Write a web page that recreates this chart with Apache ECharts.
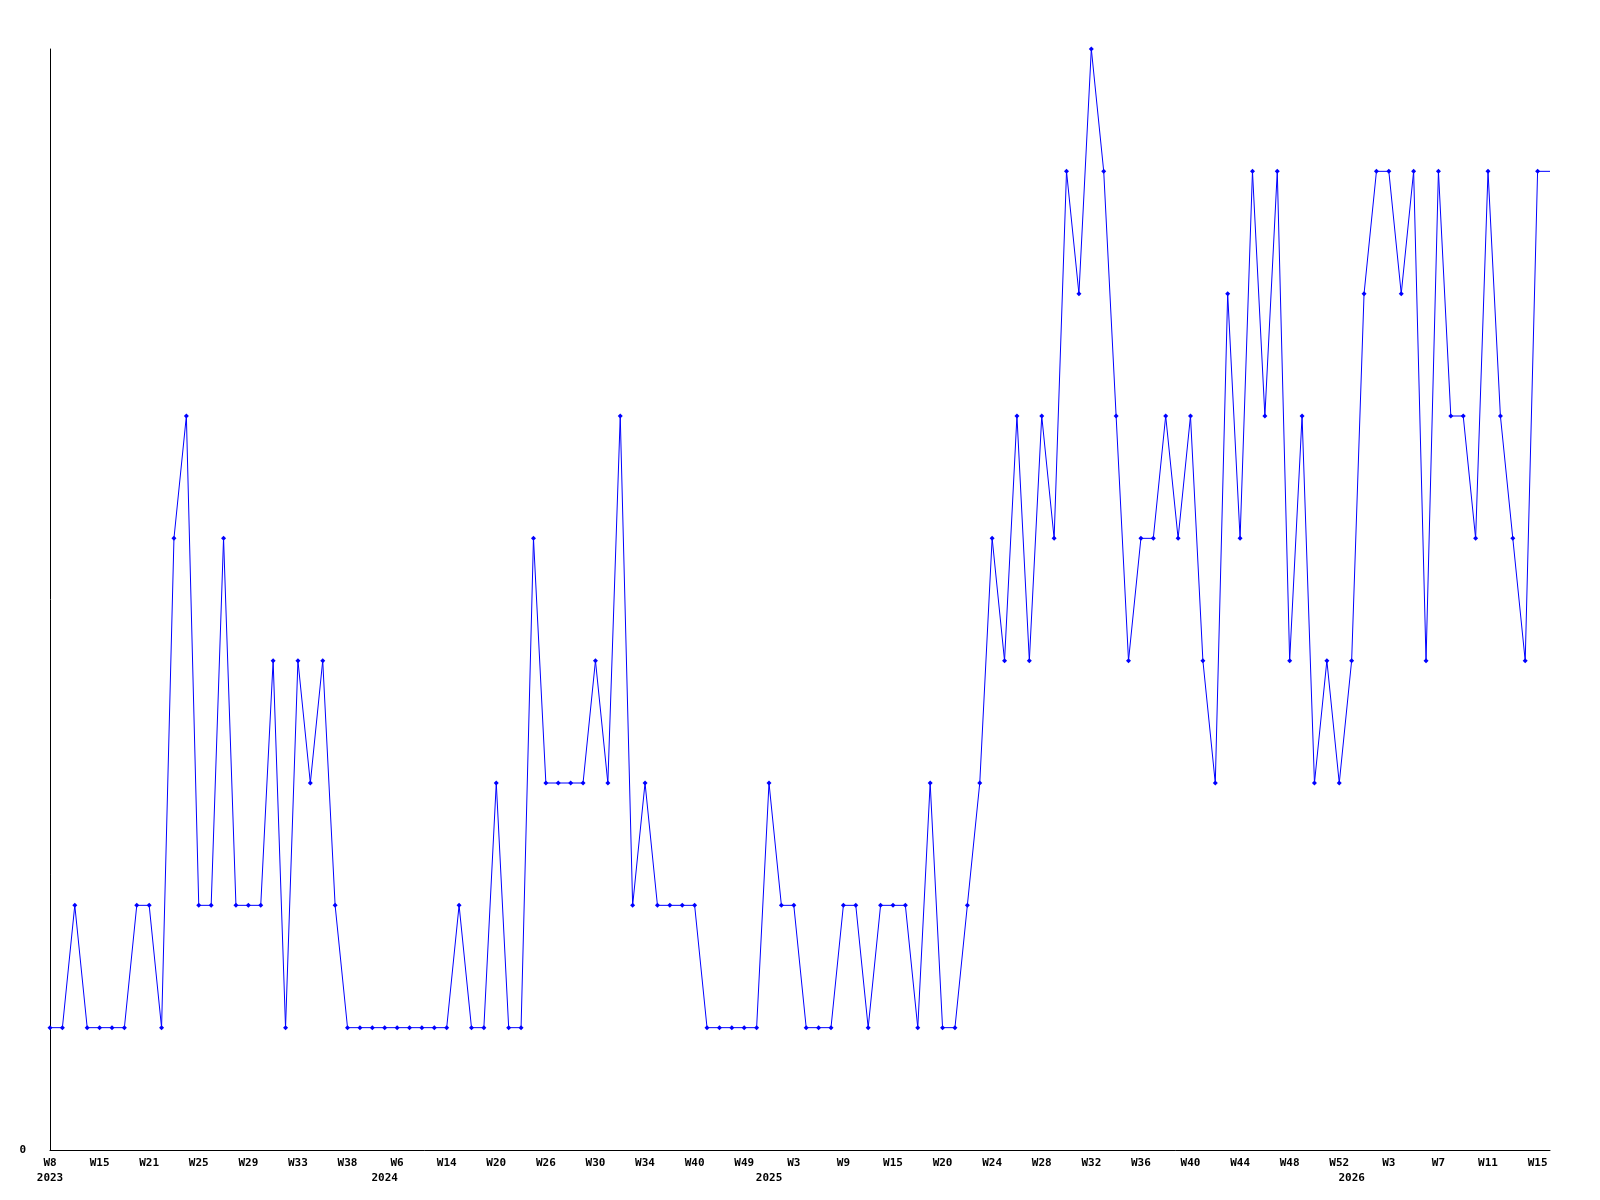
<!DOCTYPE html>
<html>
<head>
<meta charset="utf-8">
<script src="https://cdn.jsdelivr.net/npm/echarts@6/dist/echarts.min.js"></script>
<style>
  html, body { margin: 0; padding: 0; background: #ffffff; }
  #chart { width: 1600px; height: 1200px; }
</style>
</head>
<body>
<div id="chart"></div>
<script>
// Values per data point (121 points + trailing open segment)
const values = [
  1,1,2,1,1,1,1,2,2,1,
  5,6,2,2,5,2,2,2,4,1,
  4,3,4,2,1,1,1,1,1,1,
  1,1,1,2,1,1,3,1,1,5,
  3,3,3,3,4,3,6,2,3,2,
  2,2,2,1,1,1,1,1,3,2,
  2,1,1,1,2,2,1,2,2,2,
  1,3,1,1,2,3,5,4,6,4,
  6,5,8,7,9,8,6,4,5,5,
  6,5,6,4,3,7,5,8,6,8,
  4,6,3,4,3,4,7,8,8,7,
  8,4,8,6,6,5,8,6,5,4,8
];
const trailingValue = 8; // line continues to the right edge without a marker

// Tick labels, one every 4th point
const tickLabels = [
  'W8','W15','W21','W25','W29','W33','W38','W6','W14','W20',
  'W26','W30','W34','W40','W49','W3','W9','W15','W20','W24',
  'W28','W32','W36','W40','W44','W48','W52','W3','W7','W11','W15'
];
// Year labels and the point they sit under
const yearLabels = ['2023','2024','2025','2026'];
const yearPoints = [0, 27, 58, 105];

const n = values.length + 1;
const categories = [];
for (let i = 0; i < n; i++) categories.push(String(i));

const seriesData = values.map(v => v);
seriesData.push({ value: trailingValue, symbol: 'none' });

const font = { fontFamily: 'DejaVu Sans Mono', fontWeight: 'bold', fontSize: 11, color: '#000' };

const chart = echarts.init(document.getElementById('chart'), null, { renderer: 'canvas' });
chart.setOption({
  animation: false,
  backgroundColor: '#ffffff',
  grid: { left: 50, right: 50, top: 49, bottom: 50, containLabel: false },
  xAxis: [
    {
      type: 'category',
      data: categories,
      boundaryGap: false,
      axisLine: { show: true, lineStyle: { color: '#000', width: 1 } },
      axisTick: { show: false },
      splitLine: { show: false },
      axisLabel: Object.assign({
        interval: 3,
        margin: 8,
        formatter: (v, i) => (i % 4 === 0 && tickLabels[i / 4] !== undefined) ? tickLabels[i / 4] : ''
      }, font)
    },
    {
      type: 'category',
      data: categories,
      boundaryGap: false,
      position: 'bottom',
      axisLine: { show: false },
      axisTick: { show: false },
      splitLine: { show: false },
      axisLabel: Object.assign({
        interval: 0,
        margin: 23,
        formatter: (v, i) => {
          const k = yearPoints.indexOf(i);
          return k >= 0 ? yearLabels[k] : '';
        }
      }, font)
    }
  ],
  yAxis: {
    type: 'value',
    min: 0,
    max: 9,
    interval: 9,
    axisLine: { show: true, lineStyle: { color: '#000', width: 1 } },
    axisTick: { show: false },
    splitLine: { show: false },
    axisLabel: Object.assign({
      margin: 24,
      formatter: v => (v === 0 ? '0' : '')
    }, font)
  },
  series: [{
    type: 'line',
    data: seriesData,
    xAxisIndex: 0,
    symbol: 'diamond',
    symbolSize: 5,
    showAllSymbol: true,
    lineStyle: { color: '#0000ff', width: 1 },
    itemStyle: { color: '#0000ff', borderWidth: 0 },
    emphasis: { disabled: true }
  }]
});
</script>
</body>
</html>
